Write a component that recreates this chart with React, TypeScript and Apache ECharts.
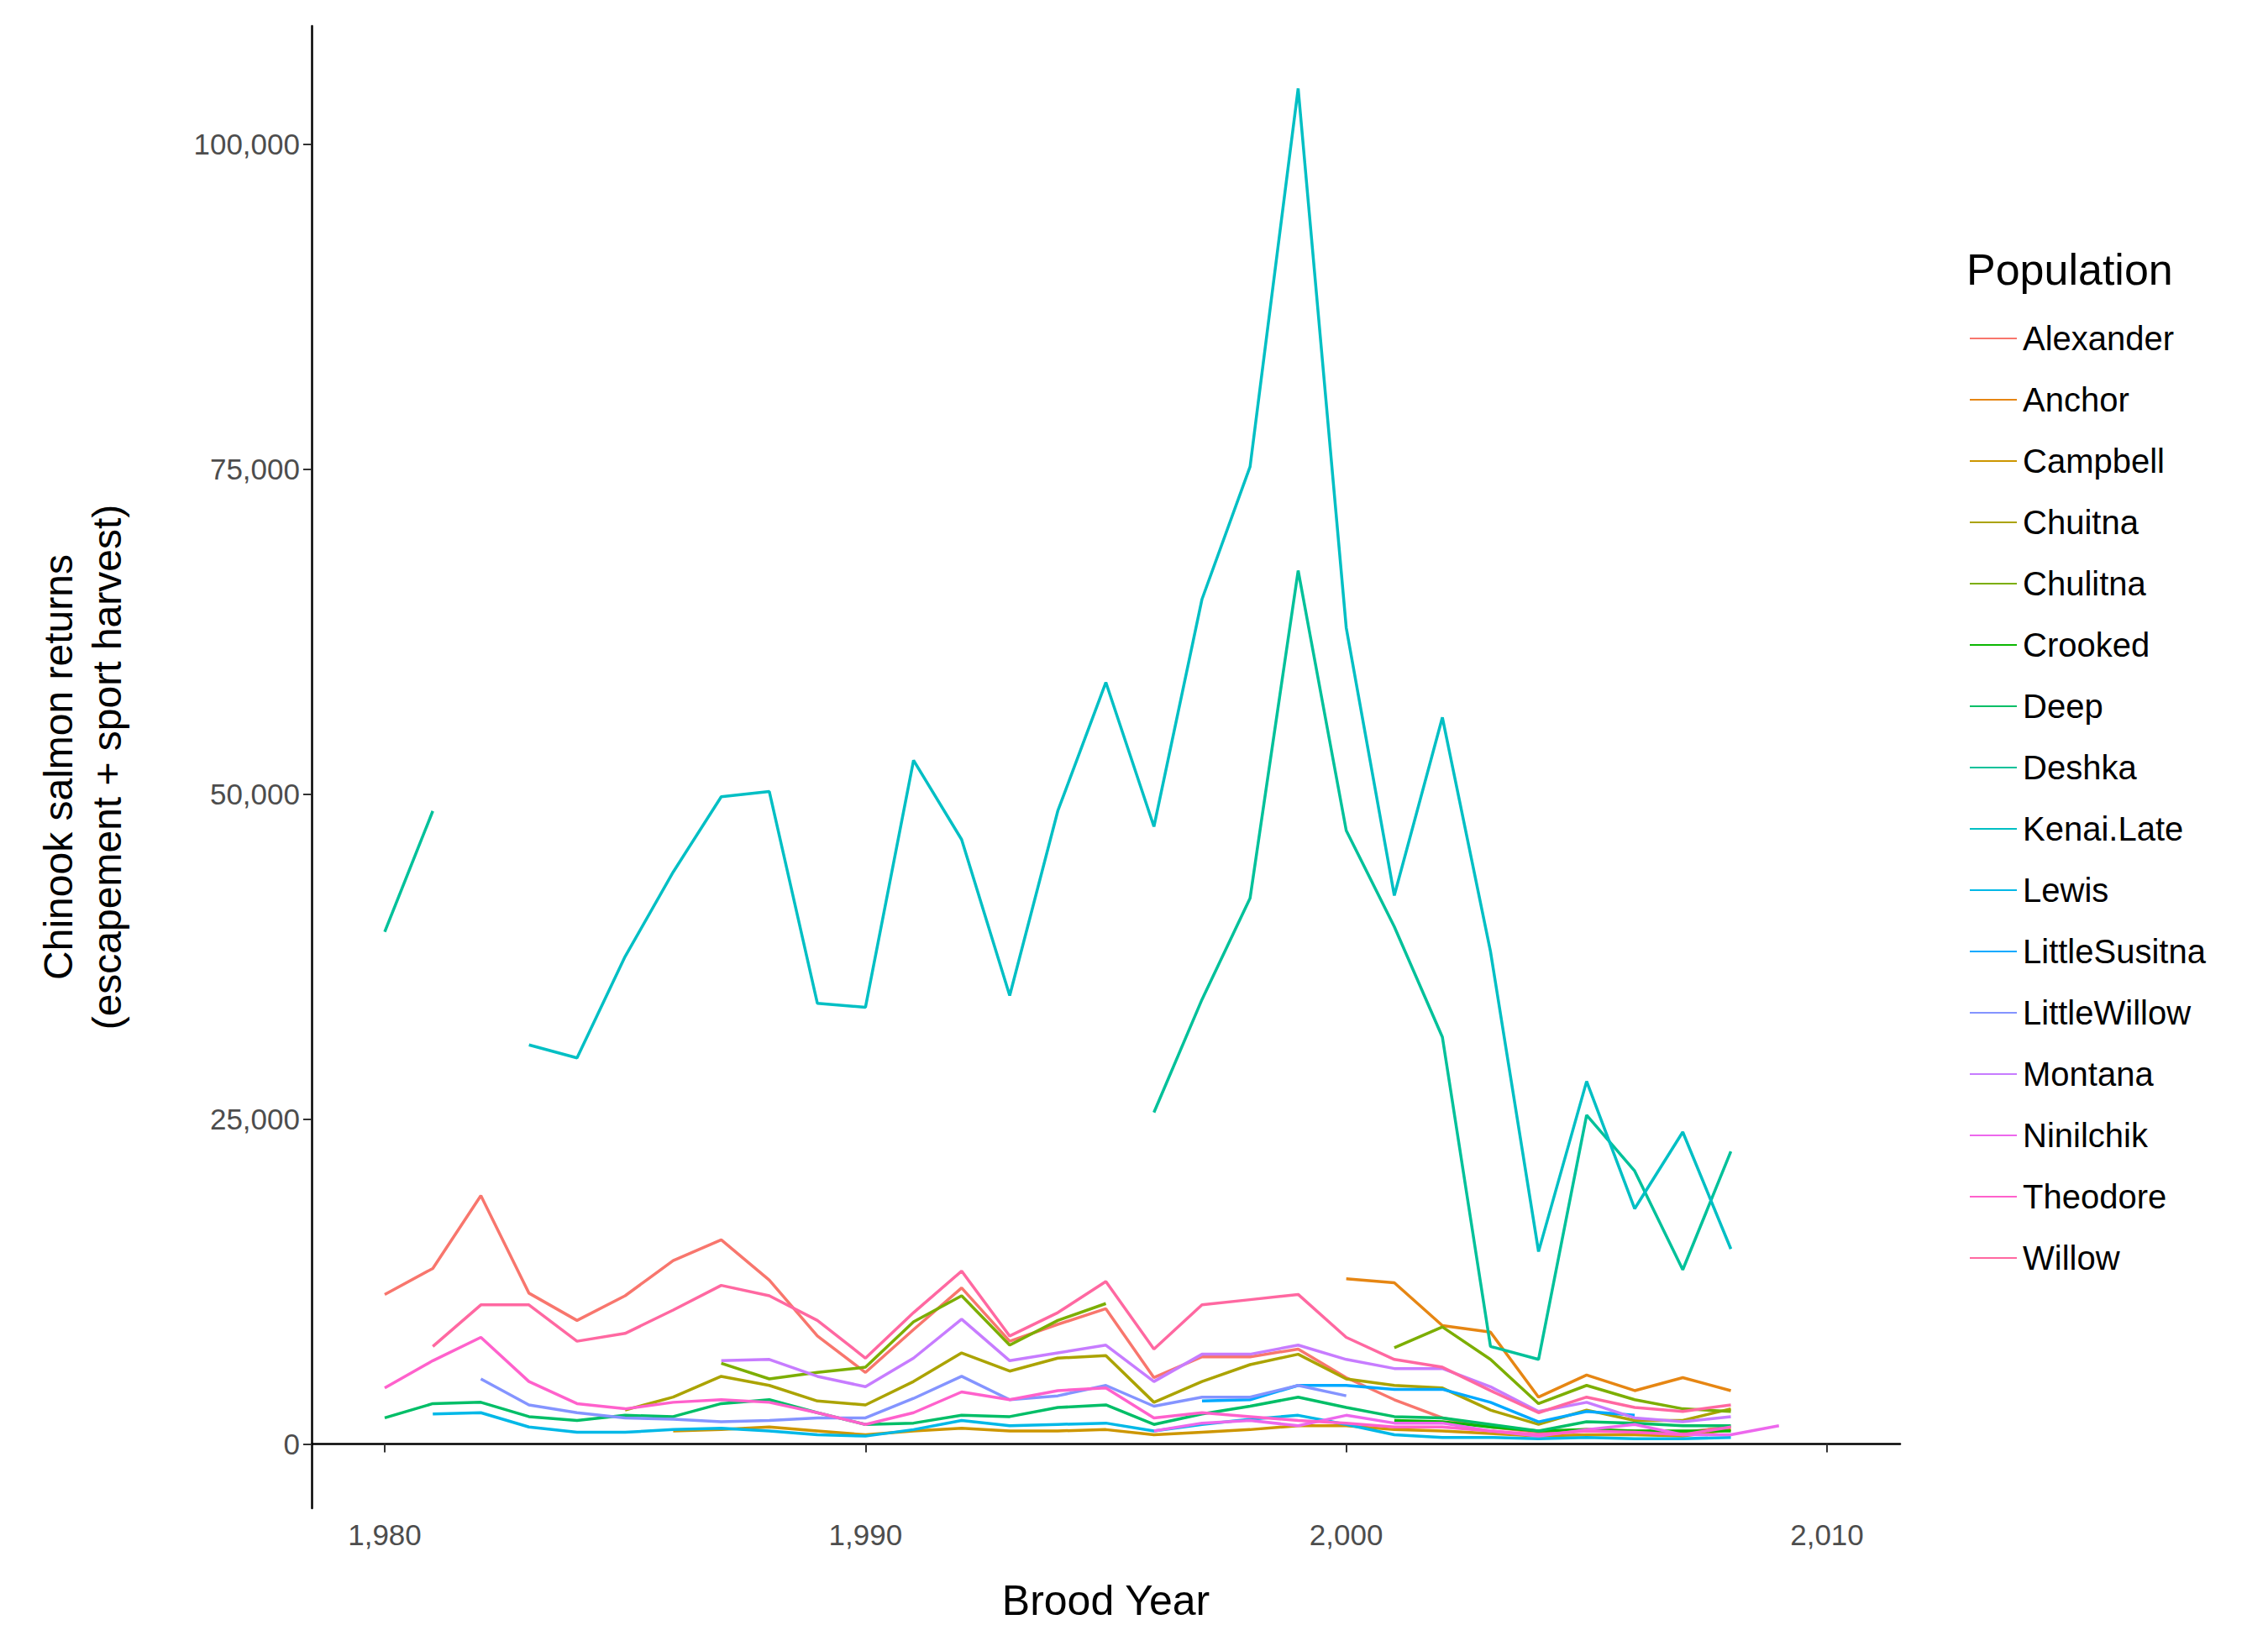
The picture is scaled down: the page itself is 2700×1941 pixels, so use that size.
import { useEffect, useRef } from "react";
import * as echarts from "echarts";

const years = Array.from({ length: 30 }, (_, i) => 1980 + i); // 1980..2009
const _ = null;

const populations = [
  "Alexander", "Anchor", "Campbell", "Chuitna", "Chulitna", "Crooked", "Deep", "Deshka",
  "Kenai.Late", "Lewis", "LittleSusitna", "LittleWillow", "Montana", "Ninilchik", "Theodore", "Willow",
];

const colors = [
  "#F8766D", "#E68613", "#CD9600", "#ABA300", "#7CAE00", "#0CB702", "#00BE67", "#00C19A",
  "#00BFC4", "#00B8E7", "#00A9FF", "#8494FF", "#C77CFF", "#ED68ED", "#FF61CC", "#FF68A1",
];

// values in thousands of fish, 1980..2009
const alexander = [11.5, 13.5, 19.1, 11.6, 9.5, 11.4, 14.1, 15.7, 12.6, 8.3, 5.5, 8.8, 12.0, 7.9, 9.2, 10.4, 5.1, 6.7, 6.7, 7.3, 5.1, 3.4, 2.0, 1.3, 0.9, 1.1, 1.0, 0.9, 1.3, _];
const anchor = [_, _, _, _, _, _, _, _, _, _, _, _, _, _, _, _, _, _, _, _, 12.7, 12.4, 9.1, 8.6, 3.6, 5.3, 4.1, 5.1, 4.1, _];
const campbell = [_, _, _, _, _, _, 1.0, 1.1, 1.3, 1.0, 0.7, 1.0, 1.2, 1.0, 1.0, 1.1, 0.7, 0.9, 1.1, 1.4, 1.4, 1.1, 1.0, 0.8, 0.6, 0.7, 0.7, 0.6, 1.1, _];
const chuitna = [_, _, _, _, _, 2.6, 3.6, 5.2, 4.5, 3.3, 3.0, 4.8, 7.0, 5.6, 6.6, 6.8, 3.2, 4.8, 6.1, 6.9, 5.0, 4.5, 4.3, 2.6, 1.5, 2.6, 1.8, 1.8, 2.7, _];
const chulitna = [_, _, _, _, _, _, _, 6.2, 5.0, 5.5, 5.9, 9.4, 11.4, 7.6, 9.5, 10.8, _, _, _, _, _, 7.4, 9.0, 6.5, 3.1, 4.5, 3.4, 2.7, 2.5, _];
const crooked = [_, _, _, _, _, _, _, _, _, _, _, _, _, _, _, _, _, _, _, _, _, 1.8, 1.7, 1.3, 1.0, 1.1, 1.0, 1.0, 1.0, _];
const deep = [2.0, 3.1, 3.2, 2.1, 1.8, 2.2, 2.1, 3.1, 3.4, 2.4, 1.5, 1.6, 2.2, 2.1, 2.8, 3.0, 1.5, 2.3, 2.9, 3.6, 2.8, 2.1, 2.0, 1.5, 1.0, 1.7, 1.6, 1.4, 1.4, _];
const deshka = [39.4, 48.7, _, _, _, _, _, _, _, _, _, _, _, _, _, _, 25.5, 34.2, 42.0, 67.2, 47.2, 39.8, 31.3, 7.5, 6.5, 25.3, 21.0, 13.4, 22.5, _];
const kenaiLate = [_, _, _, 30.7, 29.7, 37.5, 44.0, 49.8, 50.2, 33.9, 33.6, 52.6, 46.5, 34.5, 48.7, 58.6, 47.5, 65.0, 75.2, 104.3, 62.8, 42.2, 55.9, 37.9, 14.8, 27.9, 18.1, 24.0, 15.0, _];
const lewis = [_, 2.3, 2.4, 1.3, 0.9, 0.9, 1.1, 1.2, 1.0, 0.7, 0.6, 1.1, 1.8, 1.4, 1.5, 1.6, 1.0, 1.5, 1.9, 2.2, 1.5, 0.7, 0.5, 0.5, 0.4, 0.5, 0.4, 0.4, 0.5, _];
const littleSusitna = [_, _, _, _, _, _, _, _, _, _, _, _, _, _, _, _, _, 3.3, 3.4, 4.5, 4.5, 4.2, 4.2, 3.2, 1.7, 2.5, 2.2, _, _, _];
const littleWillow = [_, _, 5.0, 3.0, 2.4, 2.0, 1.9, 1.7, 1.8, 2.0, 2.0, 3.5, 5.2, 3.4, 3.7, 4.5, 2.9, 3.6, 3.6, 4.5, 3.7, _, _, _, _, _, _, _, _, _];
const montana = [_, _, _, _, _, _, _, 6.4, 6.5, 5.2, 4.4, 6.6, 9.6, 6.4, 7.0, 7.6, 4.8, 6.9, 6.9, 7.6, 6.5, 5.8, 5.8, 4.4, 2.5, 3.2, 2.0, 1.7, 2.1, _];
const ninilchik = [_, _, _, _, _, _, _, _, _, _, _, _, _, _, _, _, 1.0, 1.6, 1.8, 1.4, 2.2, 1.6, 1.6, 1.0, 0.6, 1.1, 1.5, 0.7, 0.7, 1.4];
const theodore = [4.3, 6.4, 8.2, 4.8, 3.1, 2.7, 3.2, 3.4, 3.2, 2.4, 1.5, 2.4, 4.0, 3.4, 4.1, 4.3, 2.0, 2.4, 2.1, 1.8, 1.6, 1.3, 1.3, 1.0, 0.7, 1.0, 0.9, 0.7, 1.3, _];
const willow = [_, 7.5, 10.7, 10.7, 7.9, 8.5, 10.3, 12.2, 11.4, 9.5, 6.6, 10.1, 13.3, 8.3, 10.1, 12.5, 7.3, 10.7, 11.1, 11.5, 8.2, 6.5, 5.9, 4.1, 2.4, 3.6, 2.8, 2.5, 3.0, _];

const seriesValues = [
  alexander, anchor, campbell, chuitna, chulitna, crooked, deep, deshka,
  kenaiLate, lewis, littleSusitna, littleWillow, montana, ninilchik, theodore, willow,
];

const xTicks = [1980, 1990, 2000, 2010];
const yTicks = [0, 25000, 50000, 75000, 100000];

const FONT = "Liberation Sans";

export default function App() {
  const chartRef = useRef<HTMLDivElement>(null);

  useEffect(() => {
    document.body.style.margin = "0";
    if (!chartRef.current) return;
    const chart = echarts.init(chartRef.current, null, { renderer: "svg" });

    chart.setOption({
      animation: false,
      backgroundColor: "#ffffff",
      title: {
        text: "Population",
        left: 2336,
        top: 290,
        textStyle: { fontFamily: FONT, fontSize: 52, fontWeight: "normal", color: "#000" },
      },
      legend: {
        orient: "vertical",
        left: 2340,
        top: 378,
        itemWidth: 56,
        itemHeight: 40,
        itemGap: 33,
        icon: "path://M0,19 L56,19 L56,21 L0,21 Z",
        textStyle: { fontFamily: FONT, fontSize: 40, color: "#000", padding: [0, 0, 0, 2] },
        data: populations,
      },
      grid: { left: 371, right: 438, top: 31, bottom: 145 },
      xAxis: {
        type: "value",
        min: 1978.48,
        max: 2011.52,
        name: "Brood Year",
        nameLocation: "middle",
        nameGap: 85,
        nameTextStyle: { fontFamily: FONT, fontSize: 50, color: "#000" },
        axisLine: { show: true, lineStyle: { color: "#000", width: 2.5 } },
        axisTick: { show: true, length: 10, lineStyle: { color: "#333", width: 2 }, customValues: xTicks },
        axisLabel: { fontFamily: FONT, fontSize: 35, color: "#4D4D4D", margin: 14, customValues: xTicks },
        splitLine: { show: false },
      },
      yAxis: {
        type: "value",
        min: -4950,
        max: 109100,
        name: "Chinook salmon returns\n(escapement + sport harvest)",
        nameLocation: "middle",
        nameGap: 215,
        nameRotate: 90,
        nameTextStyle: { fontFamily: FONT, fontSize: 48, color: "#000", lineHeight: 58 },
        axisLine: { show: true, lineStyle: { color: "#000", width: 2.5 } },
        axisTick: { show: true, length: 10, lineStyle: { color: "#333", width: 2 }, customValues: yTicks },
        axisLabel: {
          fontFamily: FONT,
          fontSize: 35,
          color: "#4D4D4D",
          margin: 14,
          customValues: yTicks,
          formatter: (v: number) => v.toLocaleString("en-US"),
        },
        splitLine: { show: false },
      },
      series: populations.map((name, i) => ({
        name,
        type: "line",
        symbol: "none",
        connectNulls: false,
        color: colors[i],
        lineStyle: { width: 3.5, color: colors[i] },
        data: years.map((y, j) => [y, seriesValues[i][j] == null ? null : (seriesValues[i][j] as number) * 1000]),
      })),
    });

    return () => chart.dispose();
  }, []);

  return <div ref={chartRef} style={{ width: 2700, height: 1941 }} />;
}
